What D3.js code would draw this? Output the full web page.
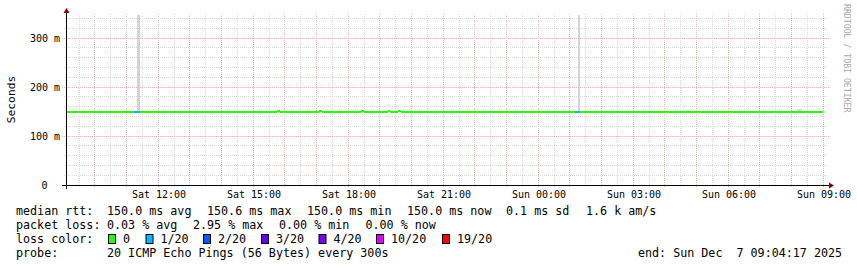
<!DOCTYPE html>
<meta charset="utf-8">
<script src="https://d3js.org/d3.v7.min.js"></script>
<style>
  body { margin: 0; background: #fff; }
  text { font-family: "DejaVu Sans Mono", monospace; white-space: pre; }
</style>
<div id="chart"></div>
<script>
  // time range of the graph
  const graphStart = "2025-12-06T09:04:17",
        graphEnd = "2025-12-07T09:04:17";

  // median rtt as steps: segment i runs from medianTimes[i] to medianTimes[i+1]
  const medianTimes = [
    "2025-12-06T09:05", "2025-12-06T11:15", "2025-12-06T11:25", "2025-12-06T15:45",
    "2025-12-06T15:50", "2025-12-06T17:05", "2025-12-06T17:10", "2025-12-06T18:25",
    "2025-12-06T18:30", "2025-12-06T19:15", "2025-12-06T19:20", "2025-12-06T19:35",
    "2025-12-06T19:40", "2025-12-07T01:10", "2025-12-07T01:20", "2025-12-07T09:00"
  ];
  const medianValues = [150, 150, 150, 152, 150, 152, 150, 152, 150, 152, 150, 152, 150, 150, 150]; // ms
  const medianLoss   = [0, 1, 0, 0, 0, 0, 0, 0, 0, 0, 0, 0, 0, 1, 0];               // lost of 20

  // smoke (spread of the pings) where it shows above the median
  const smokeStart = ["2025-12-06T11:20", "2025-12-06T13:55", "2025-12-06T17:30",
                      "2025-12-07T01:15", "2025-12-07T04:40", "2025-12-07T08:10"];
  const smokeEnd   = ["2025-12-06T11:25", "2025-12-06T14:00", "2025-12-06T17:40",
                      "2025-12-07T01:20", "2025-12-07T04:50", "2025-12-07T08:20"];
  const smokeLow   = [150, 150, 150, 150, 150, 150];
  const smokeHigh  = [346, 152, 152, 346, 154, 156];

  const yTicks = [0, 100, 200, 300];
  const yTickLabels = ["0", "100 m", "200 m", "300 m"];

  const lossLabels = ["0", "1/20", "2/20", "3/20", "4/20", "10/20", "19/20"];
  const lossSteps  = [0, 1, 2, 3, 4, 10, 19];
  const lossColors = ["#26ff00", "#00b8ff", "#0059ff", "#5e00ff", "#7e00ff", "#dd00ff", "#ff0000"];

  const width = 857, height = 267;
  const parse = d3.isoParse;

  const svg = d3.select("#chart").append("svg")
    .attr("width", width)
    .attr("height", height);

  const x = d3.scaleTime()
    .domain([parse(graphStart), parse(graphEnd)])
    .range([65.5, 825.5]);

  const y = d3.scaleLinear()
    .domain([0, 350])
    .range([185, 13.5]);

  const px = v => Math.floor(v) + 0.5;

  // grid: minor (half hour, 20 ms) gray, major (hour, 100 ms) red
  const grid = svg.append("g").attr("shape-rendering", "crispEdges");
  const halfHours = d3.timeMinute.every(30).range(x.domain()[0], x.domain()[1]);
  halfHours.forEach(t => {
    const major = t.getMinutes() === 0;
    grid.append("line")
      .attr("x1", px(x(t))).attr("x2", px(x(t)))
      .attr("y1", 187).attr("y2", 13)
      .attr("stroke", major ? "#f0b4b4" : "#d8d8d8")
      .attr("stroke-dasharray", "1,1");
  });
  d3.range(20, 350, 20).forEach(v => {
    const major = v % 100 === 0;
    grid.append("line")
      .attr("x1", major ? 62 : 64).attr("x2", major ? 829 : 827)
      .attr("y1", px(y(v))).attr("y2", px(y(v)))
      .attr("stroke", major ? "#f0b4b4" : "#d8d8d8")
      .attr("stroke-dasharray", "1,1");
  });

  // smoke
  svg.append("g").selectAll("rect")
    .data(smokeStart.map((s, i) => ({s: parse(s), e: parse(smokeEnd[i]), lo: smokeLow[i], hi: smokeHigh[i]})))
    .join("rect")
      .attr("x", d => Math.round(x(d.s)))
      .attr("width", d => Math.max(1, Math.round(x(d.e)) - Math.round(x(d.s))))
      .attr("y", d => Math.round(y(d.hi)))
      .attr("height", d => Math.round(y(d.lo)) - Math.round(y(d.hi)))
      .attr("fill", d => d.hi > 300 ? "#d4d4d4" : "#dcdcdc");

  // median line coloured by loss
  const colorOf = l => lossColors[d3.bisectRight(lossSteps, l) - 1];
  svg.append("g").attr("shape-rendering", "crispEdges").selectAll("rect")
    .data(medianValues.map((v, i) => ({s: parse(medianTimes[i]), e: parse(medianTimes[i + 1]), v, l: medianLoss[i]})))
    .join("rect")
      .attr("x", d => Math.round(x(d.s)))
      .attr("width", d => Math.round(x(d.e)) - Math.round(x(d.s)))
      .attr("y", d => Math.round(y(d.v) - 1))
      .attr("height", 2)
      .attr("fill", d => colorOf(d.l));

  // axes
  const axis = svg.append("g");
  axis.append("line").attr("x1", 62).attr("x2", 829).attr("y1", 185.5).attr("y2", 185.5).attr("stroke", "#000");
  axis.append("line").attr("x1", 66.5).attr("x2", 66.5).attr("y1", 189).attr("y2", 12).attr("stroke", "#000");
  axis.append("path").attr("d", "M829,182.5L834,185.5L829,188.5Z").attr("fill", "#8b0000");
  axis.append("path").attr("d", "M63.5,13L66.5,8L69.5,13Z").attr("fill", "#8b0000");

  // y labels
  svg.append("g").selectAll("text")
    .data(yTicks)
    .join("text")
      .attr("x", (d, i) => i === 0 ? 47.5 : 60)
      .attr("y", d => y(d) + 3.5)
      .attr("text-anchor", "end")
      .attr("font-size", 10)
      .attr("fill", "#000")
      .text((d, i) => yTickLabels[i]);

  // x labels every 3 hours
  const fmt = d3.timeFormat("%a %H:%M");
  svg.append("g").selectAll("text")
    .data(d3.timeHour.every(3).range(x.domain()[0], x.domain()[1]))
    .join("text")
      .attr("x", d => px(x(d)) + 0.5)
      .attr("y", 197.5)
      .attr("text-anchor", "middle")
      .attr("font-size", 10)
      .attr("fill", "#000")
      .text(d => fmt(d));

  // axis title
  svg.append("text")
    .attr("transform", "translate(15,99.5) rotate(-90)")
    .attr("text-anchor", "middle")
    .attr("font-size", 11.3)
    .text("Seconds");

  // watermark
  svg.append("text")
    .attr("transform", "translate(844,4) rotate(90)")
    .attr("font-size", 8.2)
    .attr("fill", "#a8a8a8")
    .text("RRDTOOL / TOBI OETIKER");

  // legend
  const legend = svg.append("g").attr("font-size", 11.7).attr("fill", "#000");
  const row = (yy, items) => items.forEach(([xx, t]) =>
    legend.append("text").attr("x", xx).attr("y", yy).text(t));

  row(215, [[16, "median rtt:"], [107, "150.0 ms avg"], [207, "150.6 ms max"],
            [307, "150.0 ms min"], [407, "150.0 ms now"], [506, "0.1 ms sd"], [586, "1.6 k am/s"]]);
  row(229, [[16, "packet loss:"], [107, "0.03 % avg"], [193, "2.95 % max"],
            [279, "0.00 % min"], [365.5, "0.00 % now"]]);
  row(243, [[16, "loss color:"]]);
  row(257, [[16, "probe:"], [107, "20 ICMP Echo Pings (56 Bytes) every 300s"],
            [638, "end: Sun Dec  7 09:04:17 2025"]]);

  const boxX  = [108, 145.5, 203, 261, 318.5, 376, 442];
  lossLabels.forEach((lab, i) => {
    legend.append("rect")
      .attr("x", boxX[i] + 0.5).attr("y", 234.5)
      .attr("width", 7).attr("height", 9)
      .attr("fill", lossColors[i])
      .attr("stroke", "#000");
    legend.append("text").attr("x", boxX[i] + 15).attr("y", 243).text(lab);
  });
</script>
